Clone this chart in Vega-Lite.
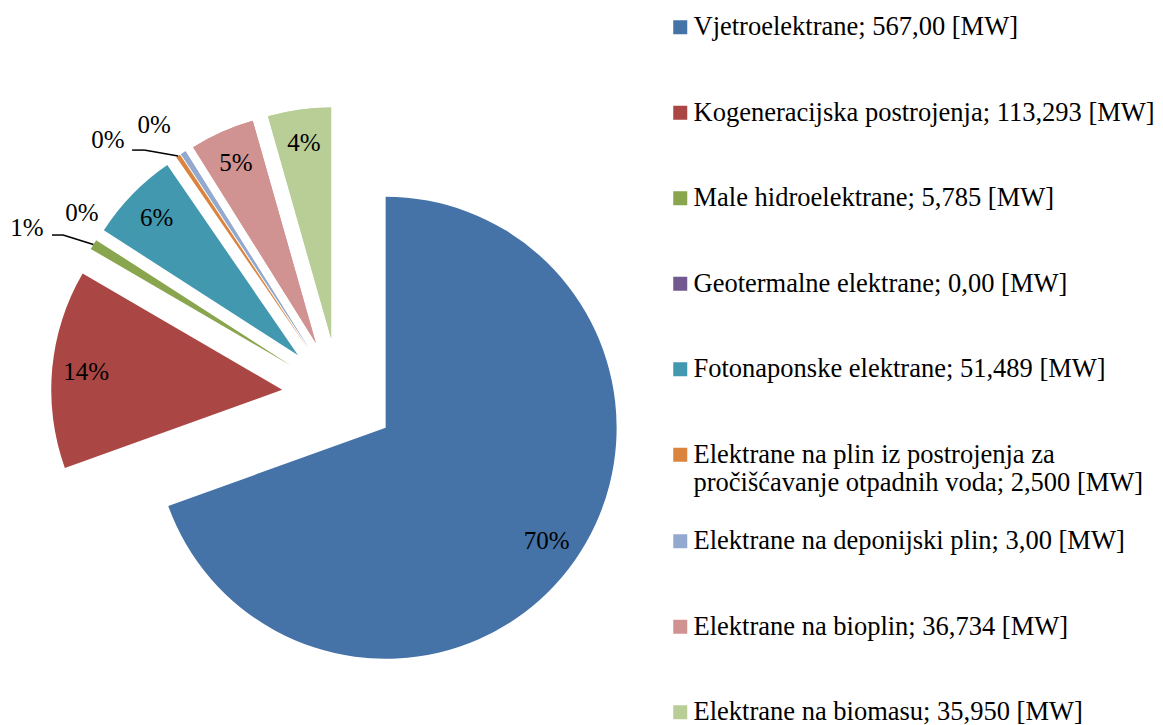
{
  "$schema": "https://vega.github.io/schema/vega-lite/v6.json",
  "width": 1163,
  "height": 725,
  "autosize": {"type": "none"},
  "padding": 0,
  "background": "white",
  "config": {"view": {"stroke": null}, "axis": {"disable": true}},
  "data": {
    "values": [
      {"cat": "Vjetroelektrane; 567,00 [MW]", "value": 567},
      {"cat": "Kogeneracijska postrojenja; 113,293 [MW]", "value": 113.293},
      {"cat": "Male hidroelektrane; 5,785 [MW]", "value": 5.785},
      {"cat": "Geotermalne elektrane; 0,00 [MW]", "value": 0},
      {"cat": "Fotonaponske elektrane; 51,489 [MW]", "value": 51.489},
      {"cat": "Elektrane na plin iz postrojenja za pročišćavanje otpadnih voda; 2,500 [MW]", "value": 2.5},
      {"cat": "Elektrane na deponijski plin; 3,00 [MW]", "value": 3},
      {"cat": "Elektrane na bioplin; 36,734 [MW]", "value": 36.734},
      {"cat": "Elektrane na biomasu; 35,950 [MW]", "value": 35.95}
    ]
  },
  "transform": [
    {"joinaggregate": [{"op": "sum", "field": "value", "as": "total"}]},
    {"window": [{"op": "sum", "field": "value", "as": "cum"}], "frame": [null, 0]},
    {"calculate": "(datum.cum - datum.value) / datum.total", "as": "start"},
    {"calculate": "datum.cum / datum.total", "as": "end"},
    {"calculate": "(datum.start + datum.end) / 2", "as": "mid"},
    {"calculate": "format(datum.value / datum.total, '.0%')", "as": "pct"},
    {"calculate": "57 * sin(2 * PI * datum.mid)", "as": "ox"},
    {"calculate": "57 * cos(2 * PI * datum.mid)", "as": "oy"}
  ],
  "layer": [
    {
      "transform": [{"filter": {"field": "cat", "oneOf": ["Elektrane na deponijski plin; 3,00 [MW]", "Elektrane na bioplin; 36,734 [MW]", "Elektrane na biomasu; 35,950 [MW]"]}}],
      "mark": {"type": "arc", "radius": 231},
      "encoding": {
        "theta": {"field": "start", "type": "quantitative", "stack": null, "scale": {"domain": [0, 1]}},
        "theta2": {"field": "end"},
        "x": {"field": "ox", "type": "quantitative", "axis": null, "scale": {"domain": [-339, 824], "nice": false, "zero": false}},
        "y": {"field": "oy", "type": "quantitative", "axis": null, "scale": {"domain": [-330, 395], "nice": false, "zero": false}},
        "fill": {
          "field": "cat",
          "type": "nominal",
          "scale": {
            "domain": [
              "Elektrane na deponijski plin; 3,00 [MW]",
              "Elektrane na bioplin; 36,734 [MW]",
              "Elektrane na biomasu; 35,950 [MW]"
            ],
            "range": ["#93A9CF", "#D19392", "#B9CD96"]
          },
          "legend": {
            "orient": "none",
            "legendX": 667,
            "legendY": 528,
            "title": null,
            "padding": 0,
            "symbolType": "square",
            "symbolSize": 196,
            "symbolStrokeWidth": 0,
            "labelFont": "Liberation Serif",
            "labelFontSize": 26.5,
            "labelColor": "black",
            "labelLimit": 800,
            "labelOffset": 0,
            "rowPadding": 58.5
          }
        }
      }
    },
    {
      "mark": {"type": "arc", "radius": 231},
      "encoding": {
        "theta": {"field": "start", "type": "quantitative", "stack": null},
        "theta2": {"field": "end"},
        "x": {"field": "ox", "type": "quantitative", "axis": null},
        "y": {"field": "oy", "type": "quantitative", "axis": null},
        "color": {
          "field": "cat",
          "type": "nominal",
          "scale": {
            "domain": [
              "Vjetroelektrane; 567,00 [MW]",
              "Kogeneracijska postrojenja; 113,293 [MW]",
              "Male hidroelektrane; 5,785 [MW]",
              "Geotermalne elektrane; 0,00 [MW]",
              "Fotonaponske elektrane; 51,489 [MW]",
              "Elektrane na plin iz postrojenja za pročišćavanje otpadnih voda; 2,500 [MW]",
              "Elektrane na deponijski plin; 3,00 [MW]",
              "Elektrane na bioplin; 36,734 [MW]",
              "Elektrane na biomasu; 35,950 [MW]"
            ],
            "range": ["#4572A7", "#AA4643", "#89A54E", "#71588F", "#4198AF", "#DB843D", "#93A9CF", "#D19392", "#B9CD96"]
          },
          "legend": {
            "orient": "none",
            "legendX": 667,
            "legendY": 14,
            "title": null,
            "padding": 0,
            "values": [
              "Vjetroelektrane; 567,00 [MW]",
              "Kogeneracijska postrojenja; 113,293 [MW]",
              "Male hidroelektrane; 5,785 [MW]",
              "Geotermalne elektrane; 0,00 [MW]",
              "Fotonaponske elektrane; 51,489 [MW]",
              "Elektrane na plin iz postrojenja za pročišćavanje otpadnih voda; 2,500 [MW]"
            ],
            "symbolType": "square",
            "symbolSize": 196,
            "symbolStrokeWidth": 0,
            "labelFont": "Liberation Serif",
            "labelFontSize": 26.5,
            "labelColor": "black",
            "labelLimit": 800,
            "labelOffset": 0,
            "rowPadding": 58.5,
            "labelExpr": "indexof(datum.label, ' proč') > 0 ? [slice(datum.label, 0, indexof(datum.label, ' proč')), slice(datum.label, indexof(datum.label, ' proč') + 1)] : datum.label"
          }
        }
      }
    },
    {
      "transform": [{"filter": "datum.value / datum.total >= 0.02"}],
      "mark": {"type": "text", "radius": 197, "font": "Liberation Serif", "fontSize": 25, "color": "black"},
      "encoding": {
        "theta": {"field": "mid", "type": "quantitative", "stack": null},
        "x": {"field": "ox", "type": "quantitative", "axis": null},
        "y": {"field": "oy", "type": "quantitative", "axis": null},
        "text": {"field": "pct"}
      }
    },
    {
      "transform": [
        {"filter": "datum.cat === 'Male hidroelektrane; 5,785 [MW]'"},
        {"calculate": "datum.mid - 3.35 / 360", "as": "lt"}
      ],
      "mark": {"type": "text", "radius": 354, "font": "Liberation Serif", "fontSize": 25, "color": "black"},
      "encoding": {
        "theta": {"field": "lt", "type": "quantitative", "stack": null},
        "x": {"datum": 0, "type": "quantitative", "axis": null},
        "y": {"datum": 0, "type": "quantitative", "axis": null},
        "text": {"field": "pct"}
      }
    },
    {
      "transform": [
        {"filter": "datum.cat === 'Geotermalne elektrane; 0,00 [MW]'"},
        {"calculate": "datum.mid + 2.52 / 360", "as": "lt"}
      ],
      "mark": {"type": "text", "radius": 315, "font": "Liberation Serif", "fontSize": 25, "color": "black"},
      "encoding": {
        "theta": {"field": "lt", "type": "quantitative", "stack": null},
        "x": {"datum": 0, "type": "quantitative", "axis": null},
        "y": {"datum": 0, "type": "quantitative", "axis": null},
        "text": {"field": "pct"}
      }
    },
    {
      "transform": [
        {"filter": "datum.cat === 'Elektrane na plin iz postrojenja za pročišćavanje otpadnih voda; 2,500 [MW]'"},
        {"calculate": "datum.mid - 8.23 / 360", "as": "lt"}
      ],
      "mark": {"type": "text", "radius": 344, "font": "Liberation Serif", "fontSize": 25, "color": "black"},
      "encoding": {
        "theta": {"field": "lt", "type": "quantitative", "stack": null},
        "x": {"datum": 0, "type": "quantitative", "axis": null},
        "y": {"datum": 0, "type": "quantitative", "axis": null},
        "text": {"field": "pct"}
      }
    },
    {
      "transform": [
        {"filter": "datum.cat === 'Elektrane na deponijski plin; 3,00 [MW]'"},
        {"calculate": "datum.mid - 1.69 / 360", "as": "lt"}
      ],
      "mark": {"type": "text", "radius": 327, "font": "Liberation Serif", "fontSize": 25, "color": "black"},
      "encoding": {
        "theta": {"field": "lt", "type": "quantitative", "stack": null},
        "x": {"datum": 0, "type": "quantitative", "axis": null},
        "y": {"datum": 0, "type": "quantitative", "axis": null},
        "text": {"field": "pct"}
      }
    },
    {
      "transform": [
        {"filter": "datum.cat === 'Male hidroelektrane; 5,785 [MW]'"},
        {"calculate": "2 * PI * datum.mid", "as": "a"},
        {"calculate": "288 * sin(datum.a)", "as": "tx"},
        {"calculate": "288 * cos(datum.a)", "as": "ty"},
        {"calculate": "319 * sin(datum.a - 1.40 * PI / 180)", "as": "bx"},
        {"calculate": "319 * cos(datum.a - 1.40 * PI / 180)", "as": "by"},
        {"calculate": "datum.bx - 11", "as": "cx"}
      ],
      "layer": [
        {
          "mark": {"type": "rule", "color": "black", "strokeWidth": 1.5},
          "encoding": {
            "x": {"field": "tx", "type": "quantitative", "axis": null},
            "y": {"field": "ty", "type": "quantitative", "axis": null},
            "x2": {"field": "bx"},
            "y2": {"field": "by"}
          }
        },
        {
          "mark": {"type": "rule", "color": "black", "strokeWidth": 1.5},
          "encoding": {
            "x": {"field": "bx", "type": "quantitative", "axis": null},
            "y": {"field": "by", "type": "quantitative", "axis": null},
            "x2": {"field": "cx"},
            "y2": {"field": "by"}
          }
        }
      ]
    },
    {
      "transform": [
        {"filter": "datum.cat === 'Elektrane na plin iz postrojenja za pročišćavanje otpadnih voda; 2,500 [MW]'"},
        {"calculate": "2 * PI * datum.mid", "as": "a"},
        {"calculate": "288 * sin(datum.a)", "as": "tx"},
        {"calculate": "288 * cos(datum.a)", "as": "ty"},
        {"calculate": "313 * sin(datum.a - 4.56 * PI / 180)", "as": "bx"},
        {"calculate": "313 * cos(datum.a - 4.56 * PI / 180)", "as": "by"},
        {"calculate": "datum.bx - 12", "as": "cx"}
      ],
      "layer": [
        {
          "mark": {"type": "rule", "color": "black", "strokeWidth": 1.5},
          "encoding": {
            "x": {"field": "tx", "type": "quantitative", "axis": null},
            "y": {"field": "ty", "type": "quantitative", "axis": null},
            "x2": {"field": "bx"},
            "y2": {"field": "by"}
          }
        },
        {
          "mark": {"type": "rule", "color": "black", "strokeWidth": 1.5},
          "encoding": {
            "x": {"field": "bx", "type": "quantitative", "axis": null},
            "y": {"field": "by", "type": "quantitative", "axis": null},
            "x2": {"field": "cx"},
            "y2": {"field": "by"}
          }
        }
      ]
    }
  ]
}
